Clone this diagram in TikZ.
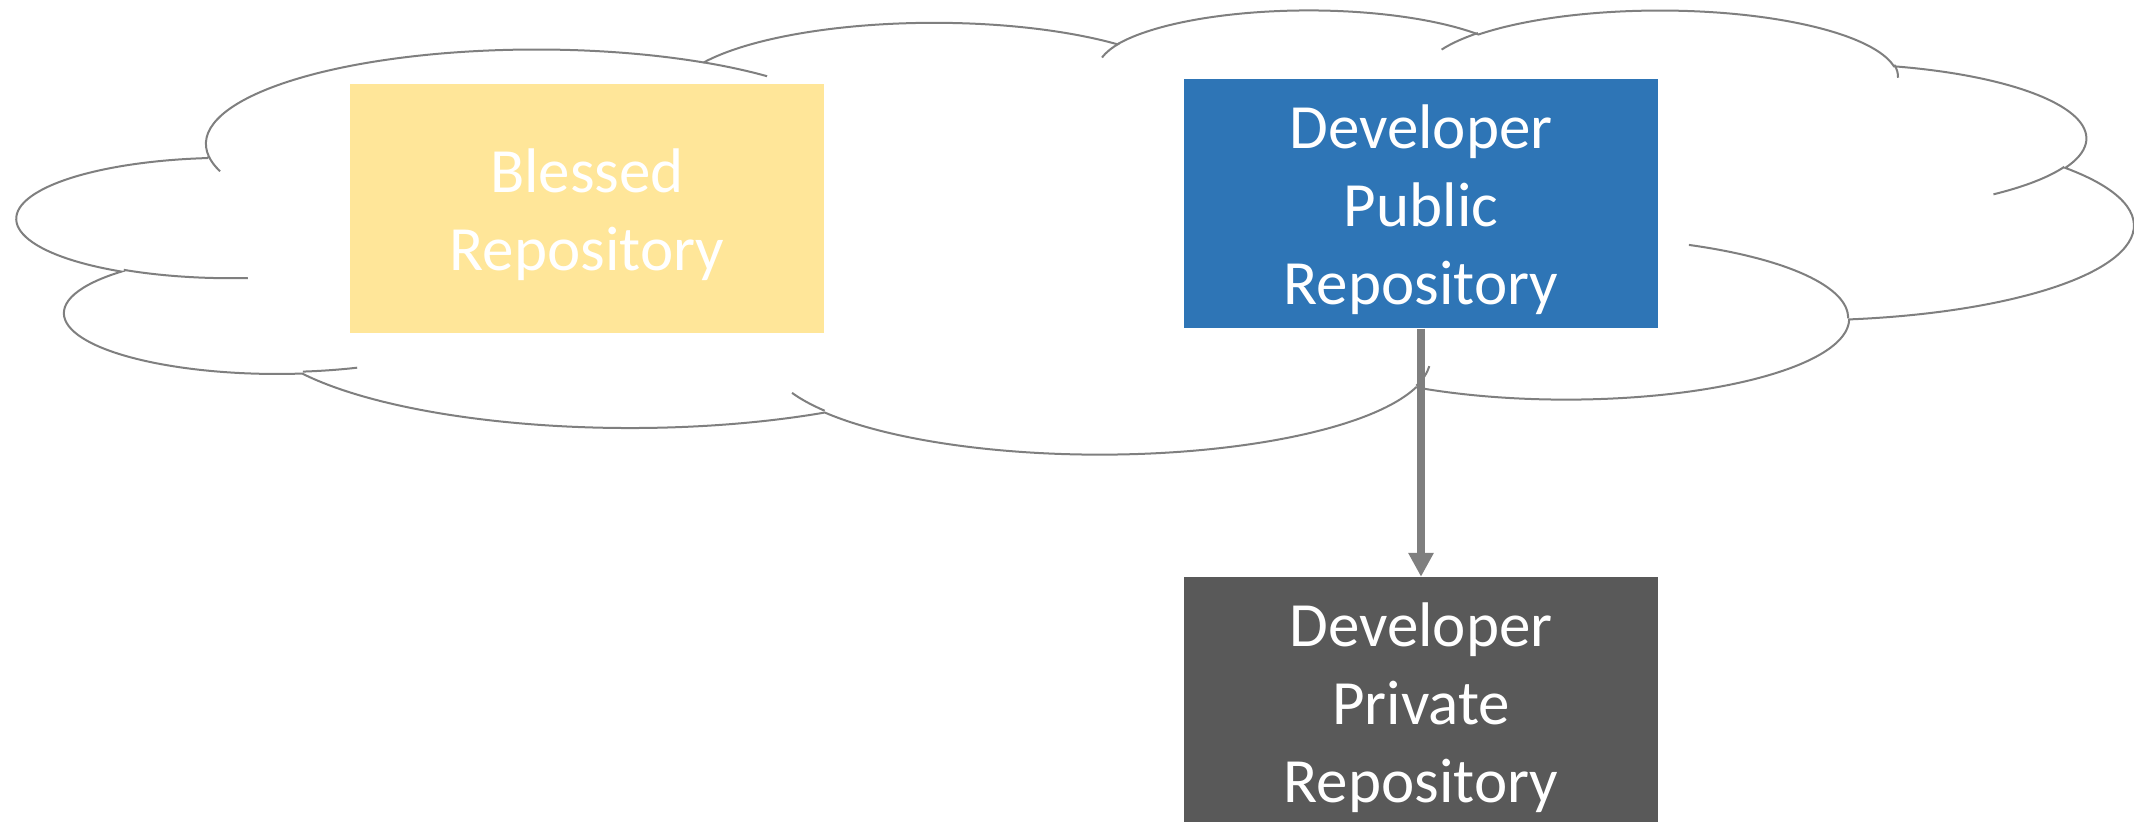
\documentclass[tikz,border=0pt]{standalone}
\usepackage{fontspec}
\setmainfont{Carlito}
\usetikzlibrary{arrows.meta}
\definecolor{cloudgray}{HTML}{7F7F7F}
\definecolor{blessedfill}{HTML}{FFE699}
\definecolor{pubblue}{HTML}{2E75B6}
\definecolor{privgray}{HTML}{595959}
\def\cxs{4.8958pt}
\def\cys{1.02778pt}
\newcommand\cloudarc[4]{arc[x radius={#1*\cxs}, y radius={#2*\cys}, start angle={-atan2(#1*sin(#3),#2*cos(#3))}, delta angle={-Mod(atan2(#1*sin(#3+#4),#2*cos(#3+#4))-atan2(#1*sin(#3),#2*cos(#3)),360)}]}
\newcommand\topstrut{\rule{0pt}{56pt}}
\tikzset{
  cloudline/.style={draw=cloudgray, line width=2pt},
  repo/.style={minimum width=474pt, minimum height=249pt, inner sep=0pt, align=center, text=white, font=\fontsize{63}{78}\selectfont},
  arrowline/.style={draw=cloudgray, line width=8pt, -{Triangle[length=24pt,width=24pt]}}
}
\begin{document}
\begin{tikzpicture}
\useasboundingbox (0pt,0pt) rectangle (2134pt,822pt);
\clip (0pt,0pt) rectangle (2134pt,822pt);
\begin{scope}[shift={(18pt,813pt)}, x=4.8958pt, y=-1.02778pt]
\filldraw[cloudline, fill=white] (39.00,143.70)
 \cloudarc{67.53}{91.90}{-190.48748}{123.78053}
 \cloudarc{53.33}{72.67}{-144.10238}{89.94523}
 \cloudarc{43.65}{59.45}{-145.80792}{99.72302}
 \cloudarc{48.57}{65.95}{-130.98607}{117.24173}
 \cloudarc{53.33}{72.73}{-78.70888}{109.02692}
 \cloudarc{67.75}{92.20}{-46.26725}{130.269}
 \cloudarc{57.85}{78.67}{0.62502}{114.03333}
 \cloudarc{67.52}{92.15}{22.4516}{115.17255}
 \cloudarc{77.20}{105.43}{66.24263}{75.71102}
 \cloudarc{43.60}{59.18}{-274.94208}{146.73557}
 \cloudarc{43.45}{59.45}{-246.8285}{152.51885}
 -- cycle;
\draw[cloudline] (46.93,261.77) \cloudarc{43.45}{59.45}{86.742}{26.4295}
 (69.28,348.99) \cloudarc{43.60}{59.18}{73.61047}{11.44747}
 (164.78,390.90) \cloudarc{67.52}{92.15}{137.62415}{14.0811}
 (288.27,347.51) \cloudarc{67.52}{92.15}{6.45327}{15.99835}
 (341.29,229.54) \cloudarc{57.85}{78.67}{-70.29235}{70.91737}
 (417.98,153.54) \cloudarc{53.33}{72.73}{30.31803}{27.7515}
 (383.24,54.26) \cloudarc{48.57}{65.95}{-13.74433}{14.8589}
 (290.78,39.52) \cloudarc{48.57}{65.95}{-149.18145}{18.19537}
 (221.41,47.20) \cloudarc{43.65}{59.45}{-163.49427}{17.68635}
 (140.00,51.92) \cloudarc{67.53}{91.90}{-66.70695}{12.31935}
 (41.27,157.89) \cloudarc{67.53}{91.90}{157.65435}{11.85817};
\end{scope}
\node[repo, fill=blessedfill] (blessed) at (587pt,613.5pt) {\topstrut Blessed\\Repository};
\node[repo, fill=pubblue] (public) at (1421pt,618pt) {\topstrut Developer\\Public\\Repository};
\node[repo, fill=privgray] (private) at (1421pt,120.5pt) {\topstrut Developer\\Private\\Repository};
\draw[arrowline] (public) -- (private);
\end{tikzpicture}
\end{document}
